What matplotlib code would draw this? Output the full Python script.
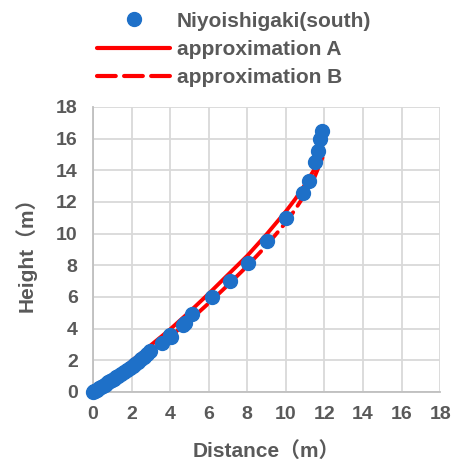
import matplotlib
matplotlib.use("Agg")
import matplotlib.pyplot as plt
from matplotlib.lines import Line2D

# measured points (Niyoishigaki south)
dist = [0.0, 0.05, 0.12, 0.2, 0.3, 0.4, 0.5, 0.6, 0.7, 0.8, 0.9, 1.0, 1.1, 1.2,
        1.3, 1.45, 1.6, 1.75, 1.9, 2.05, 2.2, 2.35, 2.5, 2.65, 2.8, 2.95,
        3.56, 4.0, 4.04, 4.68, 4.77, 5.15, 6.15, 7.13, 8.05, 9.0, 10.0,
        10.9, 11.2, 11.5, 11.65, 11.76, 11.85]
height = [0.0, 0.03, 0.08, 0.14, 0.22, 0.29, 0.37, 0.44, 0.52, 0.6, 0.68, 0.76, 0.84, 0.92,
          1.0, 1.12, 1.25, 1.37, 1.5, 1.62, 1.76, 1.9, 2.05, 2.2, 2.36, 2.6,
          3.08, 3.6, 3.46, 4.24, 4.35, 4.94, 5.97, 6.98, 8.12, 9.55, 11.0,
          12.57, 13.3, 14.55, 15.2, 16.0, 16.45]

# approximation curves
dist_a = [0, 1, 2, 3, 4, 5, 6, 7, 8, 9, 10, 10.5, 11, 11.5, 11.9]
height_a = [0, 0.95, 1.95, 2.95, 3.95, 5.05, 6.2, 7.4, 8.6, 9.95, 11.4, 12.2, 13.1, 14.1, 15.0]
dist_b = [0, 1, 2, 3, 4, 5, 6, 7, 8, 9, 10, 10.5, 11, 11.5, 11.9]
height_b = [0, 0.8, 1.65, 2.55, 3.5, 4.5, 5.6, 6.75, 7.95, 9.25, 10.7, 11.55, 12.5, 13.6, 14.8]

ticks = [0, 2, 4, 6, 8, 10, 12, 14, 16, 18]

blue = "#1E70C8"
red = "#FF0000"
gray = "#595959"
fam = ["Liberation Sans", "Noto Sans CJK JP"]

fig = plt.figure(figsize=(4.58, 4.61), dpi=100)
ax = fig.add_axes([0.203, 0.150, 0.758, 0.618])

ax.plot(dist_a, height_a, color=red, lw=2.8, solid_capstyle="round", zorder=2)
ax.plot(dist_b, height_b, color=red, lw=2.8, dashes=(4.5, 2), dash_capstyle="round", zorder=2)
ax.plot(dist, height, "o", color=blue, ms=10, mec=blue, zorder=3, clip_on=False)

ax.set_xlim(0, 18)
ax.set_ylim(0, 18)
ax.set_xticks(ticks)
ax.set_yticks(ticks)
ax.grid(True, color="#D9D9D9", lw=1.3)
ax.set_axisbelow(True)
for s in ["top", "right"]:
    ax.spines[s].set_visible(False)
for s in ["left", "bottom"]:
    ax.spines[s].set_color("#BFBFBF")
    ax.spines[s].set_linewidth(1.3)
ax.tick_params(length=0, labelsize=14, labelcolor=gray)
ax.tick_params(axis="x", pad=10)
ax.tick_params(axis="y", pad=11)
for lab in ax.get_xticklabels() + ax.get_yticklabels():
    lab.set_fontweight("bold")
    lab.set_family(fam)

ax.set_xlabel("Distance（m）", fontsize=15, fontweight="bold", color=gray, family=fam, labelpad=13)
ax.set_ylabel("Height（m）", fontsize=15, fontweight="bold", color=gray, family=fam, labelpad=14)

handles = [
    Line2D([], [], ls="none", marker="o", color=blue, ms=10),
    Line2D([], [], color=red, lw=3, solid_capstyle="round"),
    Line2D([], [], color=red, lw=3, dashes=(4.5, 2), dash_capstyle="round"),
]
labels = ["Niyoishigaki(south)", "approximation A", "approximation B"]
leg = fig.legend(handles, labels, loc="upper left", bbox_to_anchor=(0.212, 0.975),
                 frameon=False, handlelength=3.5, handletextpad=0.34, labelspacing=0.45,
                 borderpad=0, borderaxespad=0,
                 prop={"family": fam, "weight": "bold", "size": 15})
for t in leg.get_texts():
    t.set_color(gray)

fig.savefig("out.png", dpi=100)
